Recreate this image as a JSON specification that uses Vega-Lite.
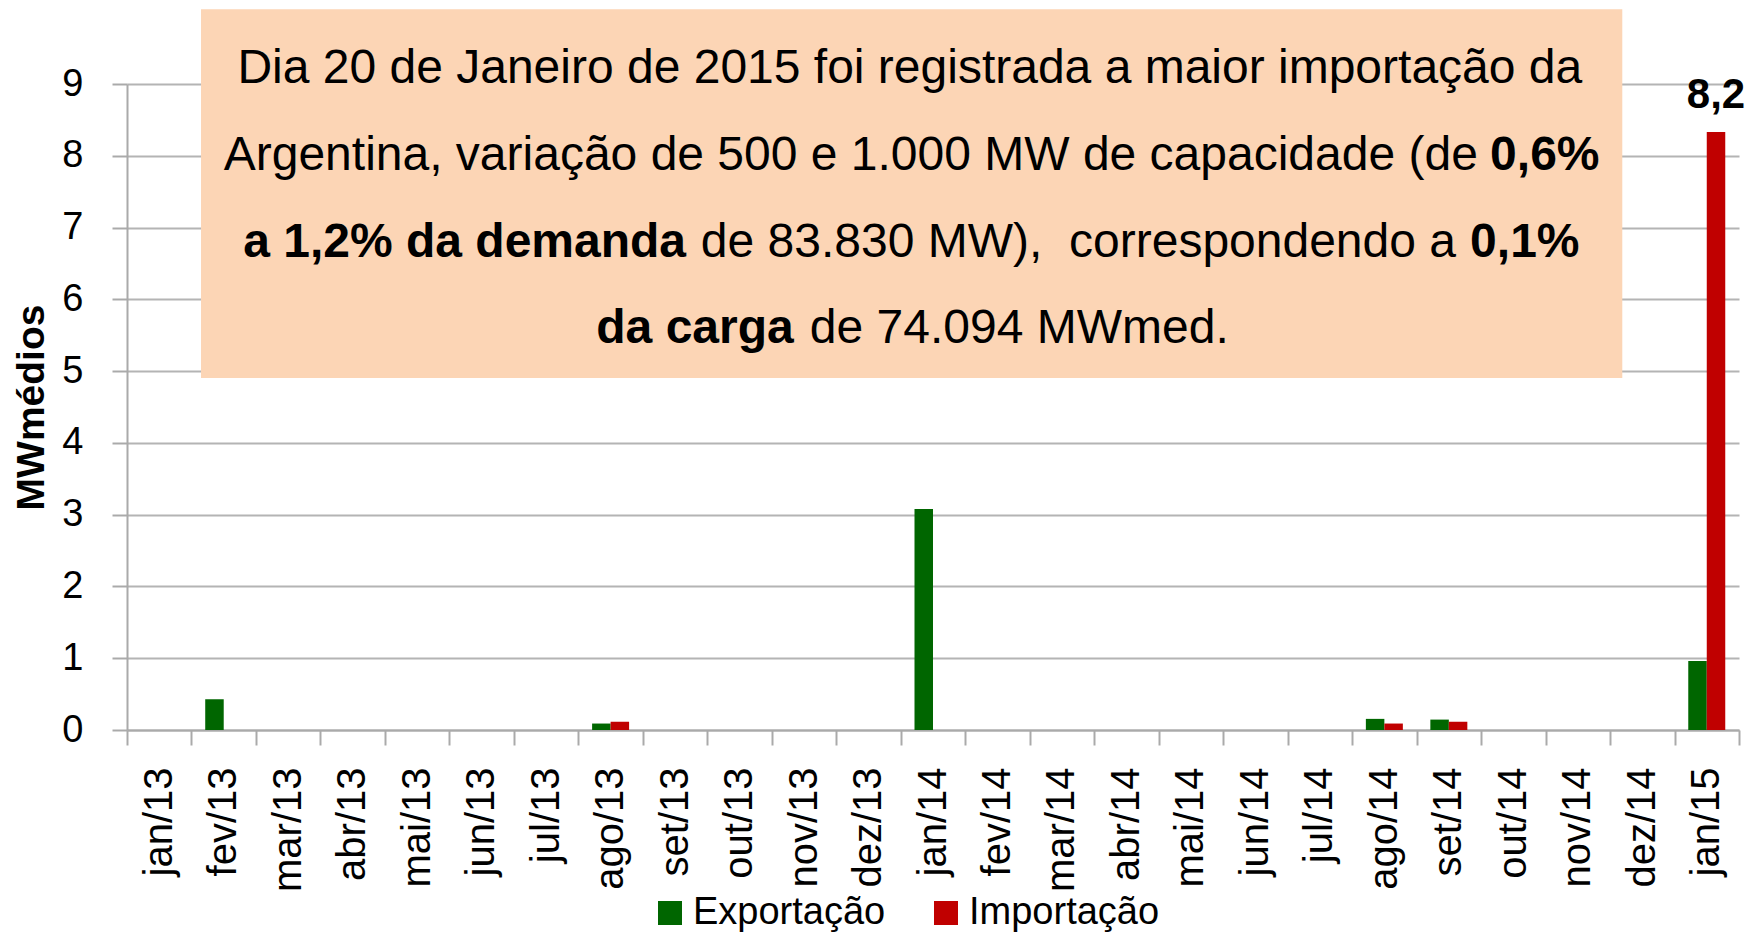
{
  "$schema": "https://vega.github.io/schema/vega-lite/v6.json",
  "autosize": {"type": "none"},
  "width": 1612,
  "height": 646,
  "padding": {"left": 127, "top": 84, "right": 7, "bottom": 207},
  "background": "white",
  "config": {
    "view": {"stroke": null},
    "font": "Liberation Sans"
  },
  "data": {
    "values": [
      {"mes": "jan/13", "serie": "Exportação", "valor": 0, "rotulo": ""},
      {"mes": "jan/13", "serie": "Importação", "valor": 0, "rotulo": ""},
      {"mes": "fev/13", "serie": "Exportação", "valor": 0.43, "rotulo": ""},
      {"mes": "fev/13", "serie": "Importação", "valor": 0, "rotulo": ""},
      {"mes": "mar/13", "serie": "Exportação", "valor": 0, "rotulo": ""},
      {"mes": "mar/13", "serie": "Importação", "valor": 0, "rotulo": ""},
      {"mes": "abr/13", "serie": "Exportação", "valor": 0, "rotulo": ""},
      {"mes": "abr/13", "serie": "Importação", "valor": 0, "rotulo": ""},
      {"mes": "mai/13", "serie": "Exportação", "valor": 0, "rotulo": ""},
      {"mes": "mai/13", "serie": "Importação", "valor": 0, "rotulo": ""},
      {"mes": "jun/13", "serie": "Exportação", "valor": 0, "rotulo": ""},
      {"mes": "jun/13", "serie": "Importação", "valor": 0, "rotulo": ""},
      {"mes": "jul/13", "serie": "Exportação", "valor": 0, "rotulo": ""},
      {"mes": "jul/13", "serie": "Importação", "valor": 0, "rotulo": ""},
      {"mes": "ago/13", "serie": "Exportação", "valor": 0.09, "rotulo": ""},
      {"mes": "ago/13", "serie": "Importação", "valor": 0.115, "rotulo": ""},
      {"mes": "set/13", "serie": "Exportação", "valor": 0, "rotulo": ""},
      {"mes": "set/13", "serie": "Importação", "valor": 0, "rotulo": ""},
      {"mes": "out/13", "serie": "Exportação", "valor": 0, "rotulo": ""},
      {"mes": "out/13", "serie": "Importação", "valor": 0, "rotulo": ""},
      {"mes": "nov/13", "serie": "Exportação", "valor": 0, "rotulo": ""},
      {"mes": "nov/13", "serie": "Importação", "valor": 0, "rotulo": ""},
      {"mes": "dez/13", "serie": "Exportação", "valor": 0, "rotulo": ""},
      {"mes": "dez/13", "serie": "Importação", "valor": 0, "rotulo": ""},
      {"mes": "jan/14", "serie": "Exportação", "valor": 3.08, "rotulo": ""},
      {"mes": "jan/14", "serie": "Importação", "valor": 0, "rotulo": ""},
      {"mes": "fev/14", "serie": "Exportação", "valor": 0, "rotulo": ""},
      {"mes": "fev/14", "serie": "Importação", "valor": 0, "rotulo": ""},
      {"mes": "mar/14", "serie": "Exportação", "valor": 0, "rotulo": ""},
      {"mes": "mar/14", "serie": "Importação", "valor": 0, "rotulo": ""},
      {"mes": "abr/14", "serie": "Exportação", "valor": 0, "rotulo": ""},
      {"mes": "abr/14", "serie": "Importação", "valor": 0, "rotulo": ""},
      {"mes": "mai/14", "serie": "Exportação", "valor": 0, "rotulo": ""},
      {"mes": "mai/14", "serie": "Importação", "valor": 0, "rotulo": ""},
      {"mes": "jun/14", "serie": "Exportação", "valor": 0, "rotulo": ""},
      {"mes": "jun/14", "serie": "Importação", "valor": 0, "rotulo": ""},
      {"mes": "jul/14", "serie": "Exportação", "valor": 0, "rotulo": ""},
      {"mes": "jul/14", "serie": "Importação", "valor": 0, "rotulo": ""},
      {"mes": "ago/14", "serie": "Exportação", "valor": 0.155, "rotulo": ""},
      {"mes": "ago/14", "serie": "Importação", "valor": 0.09, "rotulo": ""},
      {"mes": "set/14", "serie": "Exportação", "valor": 0.145, "rotulo": ""},
      {"mes": "set/14", "serie": "Importação", "valor": 0.115, "rotulo": ""},
      {"mes": "out/14", "serie": "Exportação", "valor": 0, "rotulo": ""},
      {"mes": "out/14", "serie": "Importação", "valor": 0, "rotulo": ""},
      {"mes": "nov/14", "serie": "Exportação", "valor": 0, "rotulo": ""},
      {"mes": "nov/14", "serie": "Importação", "valor": 0, "rotulo": ""},
      {"mes": "dez/14", "serie": "Exportação", "valor": 0, "rotulo": ""},
      {"mes": "dez/14", "serie": "Importação", "valor": 0, "rotulo": ""},
      {"mes": "jan/15", "serie": "Exportação", "valor": 0.96, "rotulo": ""},
      {"mes": "jan/15", "serie": "Importação", "valor": 8.33, "rotulo": "8,2"}
    ]
  },
  "layer": [
    {
      "layer": [
        {
          "mark": {"type": "bar"},
          "encoding": {
            "x": {
              "field": "mes", "type": "nominal", "sort": null,
              "scale": {"paddingInner": 0, "paddingOuter": 0},
              "axis": {
                "title": null,
                "labelAngle": 270,
                "labelFont": "Liberation Sans",
                "labelFontSize": 40,
                "labelColor": "#000000",
                "labelPadding": 22,
                "tickBand": "extent",
                "tickSize": 15,
                "tickColor": "#aaaaaa",
                "tickWidth": 2,
                "domainColor": "#aaaaaa",
                "domainWidth": 2,
                "grid": false
              }
            },
            "xOffset": {"field": "serie", "type": "nominal", "scale": {"paddingInner": 0, "paddingOuter": 0.743}},
            "y": {
              "field": "valor", "type": "quantitative",
              "scale": {"domain": [0, 9], "nice": false, "zero": true},
              "axis": {
                "title": "MWmédios",
                "titleFont": "Liberation Sans",
                "titleFontSize": 39,
                "titleFontWeight": "bold",
                "titleColor": "#000000",
                "titlePadding": 10,
                "values": [0, 1, 2, 3, 4, 5, 6, 7, 8, 9],
                "format": "d",
                "labelFont": "Liberation Sans",
                "labelFontSize": 38,
                "labelColor": "#000000",
                "labelPadding": 29,
                "tickSize": 15,
                "tickColor": "#aaaaaa",
                "tickWidth": 2,
                "domainColor": "#aaaaaa",
                "domainWidth": 2,
                "grid": true,
                "gridColor": "#b4b4b4",
                "gridWidth": 2
              }
            },
            "color": {
              "field": "serie", "type": "nominal",
              "scale": {"domain": ["Exportação", "Importação"], "range": ["#006600", "#c00000"]},
              "legend": {
                "title": null,
                "orient": "none",
                "direction": "horizontal",
                "legendX": 524,
                "legendY": 810,
                "padding": 0,
                "symbolType": "square",
                "symbolSize": 576,
                "symbolStrokeWidth": 0,
                "labelFont": "Liberation Sans",
                "labelFontSize": 38,
                "labelColor": "#000000",
                "labelOffset": 4,
                "columnPadding": 41,
                "labelLimit": 400
              }
            }
          }
        },
        {
          "transform": [{"filter": "datum.rotulo != ''"}],
          "mark": {"type": "text", "font": "Liberation Sans", "fontSize": 42, "fontWeight": "bold", "color": "#000000", "baseline": "alphabetic", "align": "center", "dy": -24},
          "encoding": {
            "x": {"field": "mes", "type": "nominal", "sort": null},
            "xOffset": {"field": "serie", "type": "nominal"},
            "y": {"field": "valor", "type": "quantitative"},
            "text": {"field": "rotulo", "type": "nominal"}
          }
        }
      ]
    },
    {
      "data": {"values": [{}]},
      "layer": [
        {
          "mark": {"type": "rect", "color": "#fcd5b5"},
          "encoding": {
            "x": {"datum": 1.148, "type": "quantitative", "scale": {"domain": [0, 25]}, "axis": null},
            "x2": {"datum": 23.19},
            "y": {"datum": 10.04, "type": "quantitative"},
            "y2": {"datum": 4.904}
          }
        },
        {
          "mark": {"type": "text", "text": "Dia 20 de Janeiro de 2015 foi registrada a maior importação da", "font": "Liberation Sans", "fontSize": 48, "color": "#000000", "align": "center", "baseline": "alphabetic"},
          "encoding": {
            "x": {"datum": 12.14, "type": "quantitative", "scale": {"domain": [0, 25]}, "axis": null},
            "y": {"datum": 9.014, "type": "quantitative"}
          }
        },
        {
          "mark": {"type": "text", "text": "Argentina, variação de 500 e 1.000 MW de capacidade (de", "font": "Liberation Sans", "fontSize": 48, "color": "#000000", "align": "right", "baseline": "alphabetic"},
          "encoding": {
            "x": {"datum": 20.95, "type": "quantitative", "scale": {"domain": [0, 25]}, "axis": null},
            "y": {"datum": 7.802, "type": "quantitative"}
          }
        },
        {
          "mark": {"type": "text", "text": "0,6%", "font": "Liberation Sans", "fontSize": 48, "fontWeight": "bold", "color": "#000000", "align": "left", "baseline": "alphabetic"},
          "encoding": {
            "x": {"datum": 21.14, "type": "quantitative", "scale": {"domain": [0, 25]}, "axis": null},
            "y": {"datum": 7.802, "type": "quantitative"}
          }
        },
        {
          "mark": {"type": "text", "text": "a 1,2% da demanda", "font": "Liberation Sans", "fontSize": 48, "fontWeight": "bold", "color": "#000000", "align": "right", "baseline": "alphabetic"},
          "encoding": {
            "x": {"datum": 8.67, "type": "quantitative", "scale": {"domain": [0, 25]}, "axis": null},
            "y": {"datum": 6.59, "type": "quantitative"}
          }
        },
        {
          "mark": {"type": "text", "text": "de 83.830 MW),\u00a0 correspondendo a", "font": "Liberation Sans", "fontSize": 48, "color": "#000000", "align": "left", "baseline": "alphabetic"},
          "encoding": {
            "x": {"datum": 8.9, "type": "quantitative", "scale": {"domain": [0, 25]}, "axis": null},
            "y": {"datum": 6.59, "type": "quantitative"}
          }
        },
        {
          "mark": {"type": "text", "text": "0,1%", "font": "Liberation Sans", "fontSize": 48, "fontWeight": "bold", "color": "#000000", "align": "left", "baseline": "alphabetic"},
          "encoding": {
            "x": {"datum": 20.83, "type": "quantitative", "scale": {"domain": [0, 25]}, "axis": null},
            "y": {"datum": 6.59, "type": "quantitative"}
          }
        },
        {
          "mark": {"type": "text", "text": "da carga", "font": "Liberation Sans", "fontSize": 48, "fontWeight": "bold", "color": "#000000", "align": "right", "baseline": "alphabetic"},
          "encoding": {
            "x": {"datum": 10.34, "type": "quantitative", "scale": {"domain": [0, 25]}, "axis": null},
            "y": {"datum": 5.392, "type": "quantitative"}
          }
        },
        {
          "mark": {"type": "text", "text": "de 74.094 MWmed.", "font": "Liberation Sans", "fontSize": 48, "color": "#000000", "align": "left", "baseline": "alphabetic"},
          "encoding": {
            "x": {"datum": 10.59, "type": "quantitative", "scale": {"domain": [0, 25]}, "axis": null},
            "y": {"datum": 5.392, "type": "quantitative"}
          }
        }
      ]
    }
  ],
  "resolve": {"scale": {"x": "independent"}}
}
